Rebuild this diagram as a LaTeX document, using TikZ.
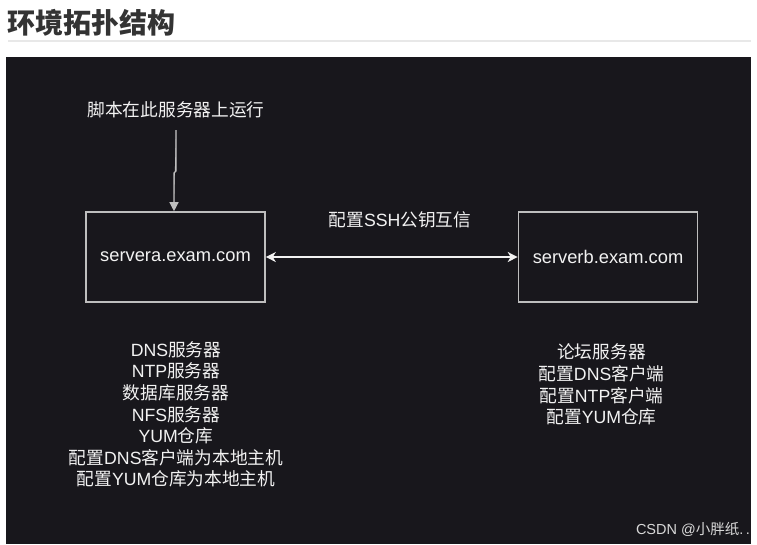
\documentclass[tikz,border=0pt]{standalone}
\usepackage{fontspec}
\setmainfont{Liberation Sans}
\newfontfamily\cjk{Noto Sans CJK SC}
\usetikzlibrary{arrows.meta}
\definecolor{bgdark}{HTML}{18171C}
\definecolor{titlegray}{HTML}{333333}
\definecolor{rulegray}{HTML}{E8E8E8}
\definecolor{boxgray}{HTML}{BEBEBE}
\definecolor{txtwhite}{HTML}{F2F2F2}
\definecolor{markgray}{HTML}{D8D8D8}
\begin{document}
\begin{tikzpicture}[x=1pt,y=-1pt,
  srv/.style={draw=boxgray, line width=1.6pt, minimum width=179pt, minimum height=90pt,
    text=txtwhite, font=\fontsize{18.3}{21}\selectfont, inner sep=0pt},
  lbl/.style={text=txtwhite, font=\fontsize{17.7}{21.6}\selectfont, inner sep=0pt, align=center},
  conn/.style={line width=1.3pt, draw=boxgray},
  dconn/.style={line width=1.3pt, draw=txtwhite, {Stealth[length=10pt,width=10pt,inset=3pt]}-{Stealth[length=10pt,width=10pt,inset=3pt]}}
]
\useasboundingbox (0,0) rectangle (757,544);
\fill[white] (0,0) rectangle (757,544);
\node[anchor=west, text=titlegray, inner sep=0pt, font=\fontsize{28}{32}\selectfont\cjk\bfseries] (title) at (7,23) {环境拓扑结构};
\draw[rulegray, line width=2pt] (8,40.5) -- (751,40.5);
\fill[bgdark] (6,57) rectangle (751,544);

\node[lbl] (run) at (176,110) {\cjk 脚本在此服务器上运行};
\node[srv] (a) at (175.5,257) {servera.exam.com};
\node[srv] (b) at (608,257) {serverb.exam.com};
\node[lbl] (ssh) at (400,220) {{\cjk 配置}SSH{\cjk 公钥互信}};

\coordinate (s) at (176,130);
\coordinate (j) at (174,173);
\draw[conn, -{Triangle[length=9pt,width=9pt]}, draw=boxgray, fill=boxgray] (s) -- (176,171) -- (j) -- (j |- a.north);

\draw[dconn] (a.east) -- (b.west);

\node[lbl] (alist) at (176,414.5) {DNS{\cjk 服务器}\\NTP{\cjk 服务器}\\{\cjk 数据库服务器}\\NFS{\cjk 服务器}\\YUM{\cjk 仓库}\\{\cjk 配置}DNS{\cjk 客户端为本地主机}\\{\cjk 配置}YUM{\cjk 仓库为本地主机}};
\node[lbl] (blist) at (601.5,384.5) {{\cjk 论坛服务器}\\{\cjk 配置}DNS{\cjk 客户端}\\{\cjk 配置}NTP{\cjk 客户端}\\{\cjk 配置}YUM{\cjk 仓库}};

\node[anchor=east, text=markgray, inner sep=0pt, font=\fontsize{14.5}{16}\selectfont] (mark) at (750,529) {CSDN @{\cjk 小胖纸}.\,.};
\end{tikzpicture}
\end{document}
